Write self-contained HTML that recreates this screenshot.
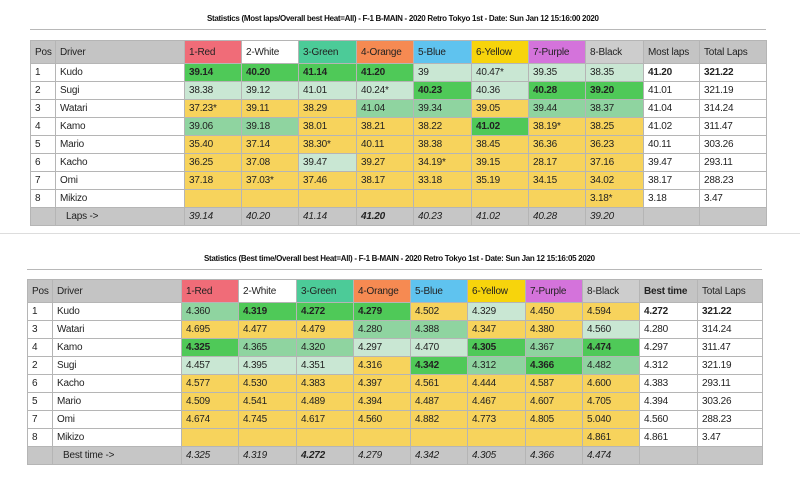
<!DOCTYPE html>
<html><head><meta charset="utf-8">
<style>
body{margin:0;width:800px;height:489px;background:#fff;font-family:"Liberation Sans",Arial,sans-serif;position:relative;overflow:hidden}
.title{position:absolute;font-size:8px;font-weight:bold;color:#111;letter-spacing:-0.3px}
.hl{position:absolute;height:1px;background:#b8b8b8}
table{position:absolute;border-collapse:collapse;table-layout:fixed;font-size:10px;color:#222}
td{border:1px solid #b5b5b5;padding:0 0 0 4px;height:17px;white-space:nowrap;overflow:hidden;letter-spacing:-0.2px}
tr.h td{height:22px;font-size:10px}
.g{background:#c4c4c4}
.hr{background:#f06c78}.hw{background:#fff}.hg{background:#4ccb98}.ho{background:#f68a52}.hb{background:#5fc3ef}.hy{background:#f7d40c}.hp{background:#d473db}.hk{background:#cdcdcd}
.Y{background:#f7d35c}.G{background:#4fc958;font-weight:bold}.M{background:#8fd4a0}.L{background:#c9e7d3}
tr.f td{background:#c6c6c6;font-style:italic}
b{font-weight:bold}
</style></head><body>

<div class="title" style="left:207px;top:14px">Statistics (Most laps/Overall best Heat=All) - F-1 B-MAIN - 2020 Retro Tokyo 1st - Date: Sun Jan 12 15:16:00 2020</div>
<div class="hl" style="left:30px;top:29px;width:736px"></div>
<table style="left:30px;top:40px;width:736px">
<colgroup><col style="width:25px"><col style="width:129px"><col style="width:57px"><col style="width:57px"><col style="width:58px"><col style="width:57px"><col style="width:58px"><col style="width:57px"><col style="width:57px"><col style="width:58px"><col style="width:56px"><col style="width:67px"></colgroup>
<tr class="h"><td class="g">Pos</td><td class="g">Driver</td><td class="hr">1-Red</td><td class="hw">2-White</td><td class="hg">3-Green</td><td class="ho">4-Orange</td><td class="hb">5-Blue</td><td class="hy">6-Yellow</td><td class="hp">7-Purple</td><td class="hk">8-Black</td><td class="g">Most laps</td><td class="g">Total Laps</td></tr>
<tr><td>1</td><td>Kudo</td><td class="G">39.14</td><td class="G">40.20</td><td class="G">41.14</td><td class="G">41.20</td><td class="L">39</td><td class="L">40.47*</td><td class="L">39.35</td><td class="L">38.35</td><td><b>41.20</b></td><td><b>321.22</b></td></tr>
<tr><td>2</td><td>Sugi</td><td class="L">38.38</td><td class="L">39.12</td><td class="L">41.01</td><td class="L">40.24*</td><td class="G">40.23</td><td class="L">40.36</td><td class="G">40.28</td><td class="G">39.20</td><td>41.01</td><td>321.19</td></tr>
<tr><td>3</td><td>Watari</td><td class="Y">37.23*</td><td class="Y">39.11</td><td class="Y">38.29</td><td class="M">41.04</td><td class="M">39.34</td><td class="Y">39.05</td><td class="M">39.44</td><td class="M">38.37</td><td>41.04</td><td>314.24</td></tr>
<tr><td>4</td><td>Kamo</td><td class="M">39.06</td><td class="M">39.18</td><td class="Y">38.01</td><td class="Y">38.21</td><td class="Y">38.22</td><td class="G">41.02</td><td class="Y">38.19*</td><td class="Y">38.25</td><td>41.02</td><td>311.47</td></tr>
<tr><td>5</td><td>Mario</td><td class="Y">35.40</td><td class="Y">37.14</td><td class="Y">38.30*</td><td class="Y">40.11</td><td class="Y">38.38</td><td class="Y">38.45</td><td class="Y">36.36</td><td class="Y">36.23</td><td>40.11</td><td>303.26</td></tr>
<tr><td>6</td><td>Kacho</td><td class="Y">36.25</td><td class="Y">37.08</td><td class="L">39.47</td><td class="Y">39.27</td><td class="Y">34.19*</td><td class="Y">39.15</td><td class="Y">28.17</td><td class="Y">37.16</td><td>39.47</td><td>293.11</td></tr>
<tr><td>7</td><td>Omi</td><td class="Y">37.18</td><td class="Y">37.03*</td><td class="Y">37.46</td><td class="Y">38.17</td><td class="Y">33.18</td><td class="Y">35.19</td><td class="Y">34.15</td><td class="Y">34.02</td><td>38.17</td><td>288.23</td></tr>
<tr><td>8</td><td>Mikizo</td><td class="Y"></td><td class="Y"></td><td class="Y"></td><td class="Y"></td><td class="Y"></td><td class="Y"></td><td class="Y"></td><td class="Y">3.18*</td><td>3.18</td><td>3.47</td></tr>
<tr class="f"><td></td><td style="font-style:normal;padding-left:10px">Laps -&gt;</td><td>39.14</td><td>40.20</td><td>41.14</td><td><b>41.20</b></td><td>40.23</td><td>41.02</td><td>40.28</td><td>39.20</td><td></td><td></td></tr>
</table>
<div class="hl" style="left:0px;top:233px;width:800px;background:#ddd"></div>

<div class="title" style="left:204px;top:254px">Statistics (Best time/Overall best Heat=All) - F-1 B-MAIN - 2020 Retro Tokyo 1st - Date: Sun Jan 12 15:16:05 2020</div>
<div class="hl" style="left:27px;top:269px;width:735px"></div>
<table style="left:27px;top:279px;width:735px">
<colgroup><col style="width:25px"><col style="width:129px"><col style="width:57px"><col style="width:58px"><col style="width:57px"><col style="width:57px"><col style="width:57px"><col style="width:58px"><col style="width:57px"><col style="width:57px"><col style="width:58px"><col style="width:65px"></colgroup>
<tr class="h"><td class="g">Pos</td><td class="g">Driver</td><td class="hr">1-Red</td><td class="hw">2-White</td><td class="hg">3-Green</td><td class="ho">4-Orange</td><td class="hb">5-Blue</td><td class="hy">6-Yellow</td><td class="hp">7-Purple</td><td class="hk">8-Black</td><td class="g"><b>Best time</b></td><td class="g">Total Laps</td></tr>
<tr><td>1</td><td>Kudo</td><td class="M">4.360</td><td class="G">4.319</td><td class="G">4.272</td><td class="G">4.279</td><td class="Y">4.502</td><td class="L">4.329</td><td class="Y">4.450</td><td class="Y">4.594</td><td><b>4.272</b></td><td><b>321.22</b></td></tr>
<tr><td>3</td><td>Watari</td><td class="Y">4.695</td><td class="Y">4.477</td><td class="Y">4.479</td><td class="M">4.280</td><td class="M">4.388</td><td class="Y">4.347</td><td class="Y">4.380</td><td class="L">4.560</td><td>4.280</td><td>314.24</td></tr>
<tr><td>4</td><td>Kamo</td><td class="G">4.325</td><td class="M">4.365</td><td class="M">4.320</td><td class="L">4.297</td><td class="L">4.470</td><td class="G">4.305</td><td class="M">4.367</td><td class="G">4.474</td><td>4.297</td><td>311.47</td></tr>
<tr><td>2</td><td>Sugi</td><td class="L">4.457</td><td class="L">4.395</td><td class="L">4.351</td><td class="Y">4.316</td><td class="G">4.342</td><td class="M">4.312</td><td class="G">4.366</td><td class="M">4.482</td><td>4.312</td><td>321.19</td></tr>
<tr><td>6</td><td>Kacho</td><td class="Y">4.577</td><td class="Y">4.530</td><td class="Y">4.383</td><td class="Y">4.397</td><td class="Y">4.561</td><td class="Y">4.444</td><td class="Y">4.587</td><td class="Y">4.600</td><td>4.383</td><td>293.11</td></tr>
<tr><td>5</td><td>Mario</td><td class="Y">4.509</td><td class="Y">4.541</td><td class="Y">4.489</td><td class="Y">4.394</td><td class="Y">4.487</td><td class="Y">4.467</td><td class="Y">4.607</td><td class="Y">4.705</td><td>4.394</td><td>303.26</td></tr>
<tr><td>7</td><td>Omi</td><td class="Y">4.674</td><td class="Y">4.745</td><td class="Y">4.617</td><td class="Y">4.560</td><td class="Y">4.882</td><td class="Y">4.773</td><td class="Y">4.805</td><td class="Y">5.040</td><td>4.560</td><td>288.23</td></tr>
<tr><td>8</td><td>Mikizo</td><td class="Y"></td><td class="Y"></td><td class="Y"></td><td class="Y"></td><td class="Y"></td><td class="Y"></td><td class="Y"></td><td class="Y">4.861</td><td>4.861</td><td>3.47</td></tr>
<tr class="f"><td></td><td style="font-style:normal;padding-left:10px">Best time -&gt;</td><td>4.325</td><td>4.319</td><td><b>4.272</b></td><td>4.279</td><td>4.342</td><td>4.305</td><td>4.366</td><td>4.474</td><td></td><td></td></tr>
</table>
</body></html>
